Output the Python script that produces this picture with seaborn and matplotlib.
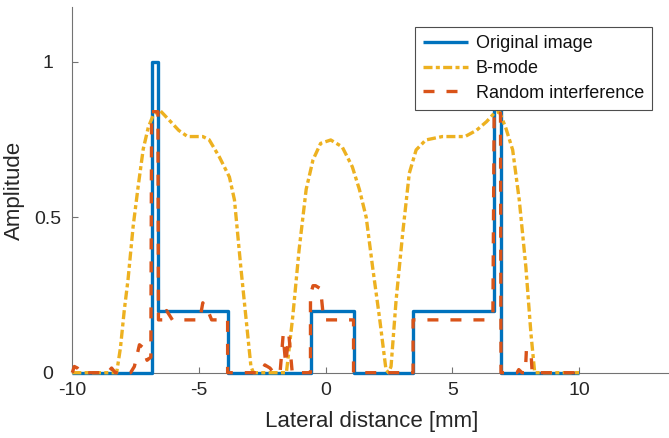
import matplotlib
matplotlib.use("Agg")
import matplotlib.pyplot as plt
import seaborn as sns
import pandas as pd

# ---------------- data ----------------
orig_x = [-10, -6.86, -6.86, -6.62, -6.62, -3.87, -3.87, -0.59, -0.59, 1.1, 1.1,
          3.45, 3.45, 6.65, 6.65, 6.9, 6.9, 10]
orig_y = [0, 0, 1, 1, 0.2, 0.2, 0, 0, 0.2, 0.2, 0, 0, 0.2, 0.2, 1, 1, 0, 0]

bmode_x = [-10, -8.25, -8.1, -7.95, -7.8, -7.6, -7.4, -7.2, -7.0, -6.8, -6.55,
           -6.2, -5.8, -5.45, -4.85, -4.6, -4.2, -3.8, -3.6, -3.35, -3.15, -2.95,
           -2.85, -1.55, -1.3, -1.05, -0.77, -0.5, -0.2, 0.2, 0.65, 1.05, 1.33,
           1.6, 1.85, 2.12, 2.38, 2.48, 2.58, 2.78, 3.04, 3.3, 3.57, 3.95, 4.6,
           5.5, 5.95, 6.35, 6.65, 6.85, 7.1, 7.38, 7.64, 7.9, 8.1, 8.25, 10]
bmode_y = [0, 0, 0.08, 0.2, 0.3, 0.47, 0.6, 0.72, 0.79, 0.83, 0.845,
           0.815, 0.78, 0.76, 0.76, 0.75, 0.695, 0.63, 0.556, 0.34, 0.18, 0.02,
           0, 0, 0.18, 0.395, 0.59, 0.685, 0.738, 0.749, 0.727, 0.663, 0.59,
           0.5, 0.341, 0.18, 0.01, 0, 0.02, 0.234, 0.449, 0.642, 0.717, 0.749, 0.76,
           0.76, 0.78, 0.808, 0.835, 0.84, 0.79, 0.717, 0.556, 0.341, 0.127, 0, 0]

rand_x = [-10, -9.92, -9.8, -9.65, -8.6, -8.45, -8.3, -7.7, -7.55, -7.35, -7.2,
          -7.05, -6.9, -6.87, -6.62, -6.6, -6.35, -6.28, -6.05, -4.97, -4.85,
          -4.6, -4.5, -3.87, -3.87, -2.55, -2.4, -2.2, -2.05, -1.8, -1.68, -1.58,
          -1.45, -1.32, -0.6, -0.6, -0.5, -0.4, -0.2, -0.08, 1.1, 1.1, 3.45,
          3.45, 6.3, 6.6, 6.65, 6.9, 6.92, 7.55, 7.62, 7.75, 7.88, 7.92, 8.1,
          8.15, 10]
rand_y = [0, 0.02, 0.015, 0, 0, 0.015, 0, 0, 0.02, 0.09, 0.08,
          0.04, 0.05, 0.84, 0.84, 0.17, 0.17, 0.2, 0.17, 0.17, 0.225,
          0.19, 0.17, 0.17, 0, 0, 0.025, 0.015, 0, 0, 0.12, 0.03,
          0.12, 0, 0, 0.25, 0.28, 0.28, 0.27, 0.17, 0.17, 0, 0,
          0.17, 0.17, 0.19, 0.84, 0.84, 0, 0, 0.01, 0, 0, 0.07, 0.07,
          0, 0]

labels = ["Original image", "B-mode", "Random interference"]
x_ticks = [-10, -5, 0, 5, 10]
y_ticks = [0, 0.5, 1]
y_ticklabels = ["0", "0.5", "1"]

# ---------------- style ----------------
sns.set_theme(style="ticks")
plt.rcParams["font.family"] = ["Liberation Sans", "DejaVu Sans"]

W, H = 669, 438
fig = plt.figure(figsize=(W / 100, H / 100), dpi=100)
ax_l, ax_r, ax_t, ax_b = 72.3, 669.0, 7.3, 372.7
ax = fig.add_axes([ax_l / W, (H - ax_b) / H, (ax_r - ax_l) / W, (ax_b - ax_t) / H])

blue, yellow, orange = "#0072BD", "#EDB120", "#D95319"
lw = 2.4

df_o = pd.DataFrame({"x": orig_x, "y": orig_y})
df_b = pd.DataFrame({"x": bmode_x, "y": bmode_y})
df_r = pd.DataFrame({"x": rand_x, "y": rand_y})

sns.lineplot(data=df_o, x="x", y="y", ax=ax, sort=False, estimator=None,
             color=blue, lw=lw, label=labels[0])
sns.lineplot(data=df_b, x="x", y="y", ax=ax, sort=False, estimator=None,
             color=yellow, lw=lw, label=labels[1])
sns.lineplot(data=df_r, x="x", y="y", ax=ax, sort=False, estimator=None,
             color=orange, lw=lw, label=labels[2])

lines = ax.get_lines()
lines[0].set_linestyle("-")
lines[1].set_dashes([2.7, 1.0, 1.2, 1.0])
lines[2].set_dashes([3.3, 3.6])
for i, ln in enumerate(lines):
    ln.set_clip_on(False)
    ln.set_zorder(3 + i)
    ln.set_solid_capstyle("butt")
    ln.set_dash_capstyle("butt")

ax.set_xlim(-10, 13.55)
ax.set_ylim(0, 1.176)
ax.set_xticks(x_ticks)
ax.set_xticklabels([str(t) for t in x_ticks])
ax.set_yticks(y_ticks)
ax.set_yticklabels(y_ticklabels)

for s in ["top", "right"]:
    ax.spines[s].set_visible(False)
for s in ["left", "bottom"]:
    ax.spines[s].set_color("0.45")
    ax.spines[s].set_linewidth(0.8)

ax.tick_params(axis="both", direction="in", length=4.3, width=0.8,
               color="0.45", labelcolor="#262626", labelsize=14)
ax.tick_params(axis="x", pad=7)
ax.tick_params(axis="y", pad=17.4)
for t in ax.get_yticklabels():
    t.set_ha("center")

ax.set_xlabel("Lateral distance [mm]", fontsize=16, color="#262626")
ax.set_ylabel("Amplitude", fontsize=16, color="#262626")
ax.xaxis.set_label_coords((372 - ax_l) / (ax_r - ax_l), (ax_b - 410.5) / (ax_b - ax_t))
ax.yaxis.set_label_coords((25 - ax_l) / (ax_r - ax_l), 0.5)

leg = ax.legend(loc="upper right", bbox_to_anchor=(652.3 / W, (H - 27.3) / H),
                bbox_transform=fig.transFigure, borderaxespad=0, fontsize=13,
                frameon=True, fancybox=False, framealpha=1, edgecolor="0.3",
                handlelength=2.5, handletextpad=0.45, borderpad=0.45,
                labelspacing=0.42)
leg.get_frame().set_linewidth(0.8)
for t in leg.get_texts():
    t.set_color("#111111")
leg.set_zorder(10)

fig.savefig("out.png", dpi=100, facecolor="white")
